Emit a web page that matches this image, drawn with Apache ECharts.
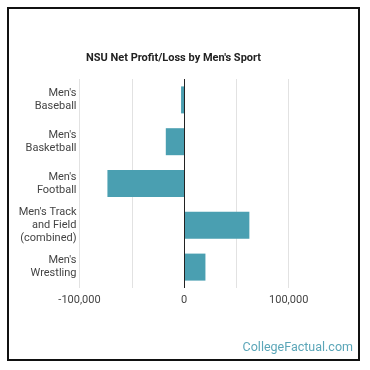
<!DOCTYPE html>
<html>
<head>
<meta charset="utf-8">
<script src="https://cdn.jsdelivr.net/npm/echarts@6/dist/echarts.min.js"></script>
<style>
html,body{margin:0;padding:0;background:#fff;}
#chart{width:370px;height:370px;}
</style>
</head>
<body>
<div id="chart"></div>
<script>
var categories = ["Men's\nBaseball", "Men's\nBasketball", "Men's\nFootball", "Men's Track\nand Field\n(combined)", "Men's\nWrestling"];
var netProfit = [-2900, -17500, -73300, 62400, 20400];
var xTicks = [-100000, 0, 100000];

var chart = echarts.init(document.getElementById('chart'), null, {renderer: 'canvas'});
chart.setOption({
  animation: false,
  backgroundColor: '#ffffff',
  textStyle: {fontFamily: 'Roboto'},
  title: {
    text: "NSU Net Profit/Loss by Men's Sport",
    left: 168.5,
    textAlign: 'center',
    top: 48,
    textStyle: {fontSize: 11, fontWeight: 'bold', color: '#222', fontFamily: 'Roboto'}
  },
  grid: {left: 79.5, right: 81.3, top: 79, height: 209, containLabel: false},
  xAxis: {
    type: 'value',
    min: -100000,
    max: 100000,
    interval: 50000,
    axisLine: {show: false},
    axisTick: {show: false},
    splitLine: {show: true, lineStyle: {color: '#e2e2e2', width: 1}},
    axisLabel: {
      color: '#444', fontSize: 11, margin: 7,
      formatter: function (v) {
        if (xTicks.indexOf(v) < 0) return '';
        return v.toLocaleString('en-US');
      }
    }
  },
  yAxis: {
    type: 'category',
    inverse: true,
    data: categories,
    axisLine: {show: false},
    axisTick: {show: false},
    axisLabel: {color: '#444', fontSize: 11, lineHeight: 13, margin: 3, align: 'right'}
  },
  series: [{
    type: 'bar',
    data: netProfit,
    barWidth: 27,
    itemStyle: {color: '#4a9fb1'},
    markLine: {
      silent: true,
      symbol: 'none',
      label: {show: false},
      lineStyle: {color: '#222', width: 1, type: 'solid'},
      data: [{xAxis: 0}]
    }
  }],
  graphic: [
    {type: 'rect', shape: {x: 8, y: 8, width: 351, height: 352}, style: {fill: 'none', stroke: '#111', lineWidth: 2}, z: 100},
    {type: 'text', right: 17, top: 341, style: {text: 'CollegeFactual.com', fill: '#5ba6b8', fontSize: 12.5, fontFamily: 'Roboto'}}
  ]
});
</script>
</body>
</html>
